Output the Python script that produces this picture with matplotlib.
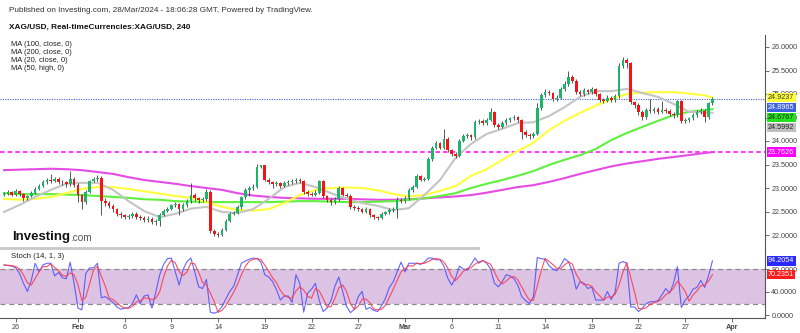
import numpy as np
import pandas as pd
import matplotlib
matplotlib.use("Agg")
import matplotlib.pyplot as plt
import matplotlib.transforms as mtransforms
from matplotlib.lines import Line2D

plt.rcParams['font.family'] = ['Liberation Sans', 'DejaVu Sans']

# -----------------------------------------------------------------------------
#  XAG/USD 6h candles, 25 Jan -> 28 Mar 2024 (open = previous close)
# -----------------------------------------------------------------------------
first_open = 22.85

closes = [
    22.88, 22.91, 22.86, 22.93, 22.87, 22.78, 22.82, 22.90, 22.98, 23.05,
    23.12, 23.16, 23.14, 23.20, 23.13, 23.12, 23.08, 23.20, 23.07, 22.85,
    22.70, 22.92, 23.15, 23.19, 23.22, 22.72, 22.68, 22.62, 22.55, 22.45,
    22.42, 22.38, 22.40, 22.45, 22.38, 22.36, 22.32, 22.35, 22.28, 22.30,
    22.43, 22.52, 22.56, 22.63, 22.66, 22.55, 22.64, 22.72, 22.86, 22.78,
    22.74, 22.76, 22.92, 22.08, 22.02, 22.00, 22.10, 22.30, 22.45, 22.47,
    22.60, 22.80, 22.95, 23.00, 23.03, 23.45, 23.48, 23.18, 23.12, 23.08,
    23.10, 23.05, 23.10, 23.12, 23.15, 23.18, 23.14, 22.92, 22.88, 22.86,
    22.90, 23.15, 22.82, 22.74, 22.70, 22.76, 23.00, 22.86, 22.84, 22.60,
    22.58, 22.55, 22.50, 22.55, 22.42, 22.38, 22.36, 22.45, 22.48, 22.53,
    22.55, 22.75, 22.72, 22.78, 22.95, 23.02, 23.25, 23.18, 23.20, 23.62,
    23.85, 23.95, 23.86, 24.05, 23.80, 23.72, 23.68, 24.00, 24.10, 24.12,
    24.08, 24.40, 24.42, 24.38, 24.45, 24.62, 24.35, 24.30, 24.38, 24.44,
    24.48, 24.50, 24.44, 24.20, 24.13, 24.10, 24.15, 24.70, 24.98, 25.05,
    25.02, 24.90, 24.92, 25.10, 25.22, 25.36, 25.28, 25.05, 25.00, 25.08,
    25.04, 25.10, 25.00, 24.88, 24.86, 24.92, 24.88, 24.95, 25.60, 25.72,
    25.66, 24.82, 24.76, 24.62, 24.50, 24.66, 24.64, 24.68, 24.62, 24.66,
    24.64, 24.58, 24.55, 24.85, 24.42, 24.45, 24.48, 24.55, 24.62, 24.64,
    24.50, 24.80, 24.8965,
]

highs = [
    22.92, 22.95, 22.94, 22.97, 22.96, 22.90, 22.85, 22.93, 23.02, 23.09,
    23.18, 23.22, 23.30, 23.24, 23.23, 23.17, 23.15, 23.36, 23.23, 23.10,
    22.88, 22.96, 23.18, 23.24, 23.28, 23.25, 22.78, 22.72, 22.65, 22.58,
    22.48, 22.45, 22.44, 22.50, 22.48, 22.42, 22.40, 22.40, 22.38, 22.34,
    22.46, 22.56, 22.60, 22.67, 22.70, 22.69, 22.68, 22.76, 23.10, 22.90,
    22.80, 22.80, 22.98, 22.95, 22.12, 22.06, 22.14, 22.34, 22.48, 22.52,
    22.64, 22.84, 23.00, 23.04, 23.08, 23.52, 23.50, 23.50, 23.22, 23.15,
    23.14, 23.13, 23.14, 23.16, 23.20, 23.22, 23.21, 23.17, 22.96, 22.91,
    22.95, 23.18, 23.17, 22.85, 22.78, 22.80, 23.04, 23.02, 22.90, 22.87,
    22.64, 22.62, 22.58, 22.60, 22.57, 22.45, 22.41, 22.49, 22.52, 22.57,
    22.60, 22.80, 22.79, 22.82, 22.99, 23.06, 23.29, 23.27, 23.24, 23.66,
    23.90, 24.00, 23.98, 24.25, 24.08, 23.84, 23.76, 24.04, 24.14, 24.18,
    24.15, 24.44, 24.47, 24.46, 24.50, 24.70, 24.64, 24.39, 24.42, 24.48,
    24.52, 24.55, 24.53, 24.47, 24.24, 24.16, 24.20, 24.80, 25.03, 25.10,
    25.08, 25.05, 24.97, 25.14, 25.27, 25.48, 25.40, 25.31, 25.09, 25.12,
    25.11, 25.15, 25.13, 25.03, 24.92, 24.97, 24.95, 25.00, 25.65, 25.79,
    25.76, 25.69, 24.86, 24.80, 24.66, 24.70, 24.90, 24.72, 24.72, 24.85,
    24.70, 24.68, 24.62, 24.88, 24.87, 24.50, 24.52, 24.60, 24.66, 24.70,
    24.68, 24.84, 24.93,
]

lows = [
    22.82, 22.85, 22.83, 22.84, 22.84, 22.72, 22.75, 22.80, 22.88, 22.95,
    23.02, 23.08, 23.10, 23.12, 23.09, 23.06, 23.03, 23.05, 23.03, 22.70,
    22.55, 22.66, 22.90, 23.12, 23.14, 22.42, 22.62, 22.58, 22.50, 22.40,
    22.36, 22.34, 22.35, 22.37, 22.34, 22.31, 22.28, 22.28, 22.24, 22.22,
    22.20, 22.40, 22.48, 22.53, 22.60, 22.43, 22.52, 22.60, 22.69, 22.73,
    22.68, 22.70, 22.72, 22.04, 21.98, 21.95, 21.97, 22.08, 22.27, 22.42,
    22.44, 22.56, 22.76, 22.82, 22.96, 23.00, 23.42, 23.14, 23.08, 23.00,
    23.04, 23.01, 23.02, 23.06, 23.09, 23.11, 23.10, 22.88, 22.84, 22.82,
    22.83, 22.87, 22.78, 22.70, 22.64, 22.66, 22.73, 22.82, 22.80, 22.56,
    22.54, 22.51, 22.46, 22.47, 22.38, 22.34, 22.31, 22.33, 22.42, 22.45,
    22.50, 22.36, 22.68, 22.69, 22.75, 22.92, 22.99, 23.14, 23.15, 23.17,
    23.58, 23.82, 23.82, 23.83, 23.76, 23.68, 23.64, 23.65, 23.97, 24.06,
    24.03, 24.05, 24.36, 24.33, 24.35, 24.42, 24.30, 24.25, 24.27, 24.34,
    24.40, 24.44, 24.40, 24.05, 24.08, 24.05, 24.07, 24.12, 24.66, 24.94,
    24.97, 24.85, 24.86, 24.89, 25.06, 25.18, 25.24, 25.00, 24.96, 24.96,
    25.00, 25.01, 24.96, 24.84, 24.81, 24.83, 24.83, 24.84, 24.92, 25.56,
    25.55, 24.78, 24.70, 24.56, 24.45, 24.47, 24.60, 24.60, 24.58, 24.59,
    24.60, 24.54, 24.50, 24.52, 24.38, 24.38, 24.41, 24.44, 24.51, 24.58,
    24.40, 24.47, 24.76,
]

# Stochastic %K (14, 1), one value per candle
stoch_k = [
    87, 86, 85, 82, 72, 55, 41, 60, 90, 75,
    87, 90, 90, 68, 74, 65, 63, 92, 55, 12,
    9, 72, 82, 82, 90, 30, 32, 27, 22, 14,
    10, 12, 13, 20, 35, 20, 33, 35, 12, 40,
    70, 88, 98, 99, 75, 52, 79, 93, 99, 75,
    49, 46, 62, 5, 3, 6, 15, 28, 41, 50,
    70, 90, 94, 97, 99, 98, 92, 70, 66, 58,
    44, 26, 33, 33, 22, 70, 55, 5, 38, 45,
    55, 25, 6, 12, 25, 50, 66, 41, 15, 4,
    10, 32, 41, 10, 13, 8, 6, 16, 29, 48,
    58, 75, 92, 75, 90, 90, 90, 88, 92, 99,
    99, 96, 96, 85, 64, 52, 64, 85, 80, 78,
    88, 99, 90, 95, 90, 80, 55, 49, 58, 70,
    68, 63, 52, 32, 25, 20, 32, 100, 98, 97,
    86, 80, 77, 86, 98, 93, 75, 45, 58, 55,
    46, 49, 26, 26, 26, 41, 27, 40, 90, 93,
    90, 14, 14, 6, 12, 20, 23, 23, 25, 35,
    46, 38, 55, 84, 13, 26, 33, 45, 48, 60,
    48, 68.5, 94.2054,
]

# Moving averages, one reading per session (every 4th candle) plus the last bar
ma20 = [
    22.49, 22.64, 22.81, 22.96, 23.09, 23.11, 23.11, 22.96, 22.72, 22.51,
    22.38, 22.45, 22.56, 22.60, 22.49, 22.47, 22.55, 22.77, 23.02, 23.11,
    23.02, 22.89, 22.77, 22.68, 22.62, 22.53, 22.57, 22.85, 23.17, 23.64,
    23.94, 24.15, 24.26, 24.38, 24.40, 24.53, 24.72, 24.94, 25.06, 25.06,
    25.11, 25.02, 24.94, 24.79, 24.62, 24.61, 24.5992,
]
ma50_high = [
    22.77, 22.75, 22.77, 22.81, 22.89, 22.98, 23.02, 23.02, 22.98, 22.93,
    22.88, 22.83, 22.79, 22.70, 22.60, 22.53, 22.52, 22.55, 22.68, 22.85,
    22.96, 23.00, 23.01, 23.00, 22.95, 22.87, 22.82, 22.85, 22.94, 23.04,
    23.26, 23.40, 23.60, 23.79, 23.96, 24.23, 24.43, 24.60, 24.75, 24.89,
    25.00, 25.03, 25.04, 25.04, 25.01, 24.97, 24.9237,
]
ma100 = [
    22.89, 22.87, 22.87, 22.87, 22.86, 22.85, 22.83, 22.81, 22.79, 22.76,
    22.75, 22.72, 22.71, 22.70, 22.70, 22.70, 22.70, 22.70, 22.71, 22.72,
    22.72, 22.71, 22.70, 22.70, 22.71, 22.72, 22.75, 22.78, 22.83, 22.89,
    23.00, 23.09, 23.17, 23.26, 23.36, 23.49, 23.60, 23.70, 23.83, 24.02,
    24.17, 24.30, 24.43, 24.55, 24.62, 24.66, 24.6767,
]
ma200 = [
    23.38, 23.39, 23.40, 23.41, 23.40, 23.38, 23.34, 23.30, 23.23, 23.17,
    23.13, 23.09, 23.04, 23.00, 22.96, 22.89, 22.84, 22.81, 22.79, 22.78,
    22.77, 22.77, 22.77, 22.76, 22.75, 22.75, 22.76, 22.78, 22.80, 22.82,
    22.85, 22.90, 22.96, 23.02, 23.06, 23.13, 23.21, 23.30, 23.38, 23.46,
    23.52, 23.57, 23.62, 23.66, 23.70, 23.745, 23.7626,
]

# session number (0 = Fri 26 Jan) of each date label
tick_days = [0, 4, 7, 10, 13, 16, 19, 22, 25, 28, 31, 34, 37, 40, 43, 46]
tick_labels = ['26', 'Feb', '6', '9', '14', '19', '22', '27',
               'Mar', '6', '11', '14', '19', '22', '27', 'Apr']
month_labels = {'Feb', 'Mar', 'Apr'}

# =============================================================================
#                              ESTILO
# =============================================================================
UP = '#1db56a'
DOWN = '#f51414'
WICK = '#3a3a3a'
C_MA20 = '#c4c4c4'
C_MA50 = '#ffff3c'
C_MA100 = '#5ef03c'
C_MA200 = '#e64be6'
C_PRICE = '#3f63e0'
AXIS = '#555555'
LABEL_FS = 5.2

W, H = 800, 333
fig = plt.figure(figsize=(W / 100, H / 100), dpi=100)
fig.patch.set_facecolor('white')


def fx(px):
    return px / W


def fy(py):
    return 1 - py / H


opens = [first_open] + closes[:-1]
idx = np.arange(len(closes))
ma_idx = list(range(0, len(closes) - 2, 4)) + [len(closes) - 1]
tick_pos = [3 + 4 * d for d in tick_days]
xlim = (-1.03, 195.5)

# =============================================================================
#                          PANEL DE PRECIO
# =============================================================================
ax = fig.add_axes([0, fy(251), fx(765), (251 - 35) / H])
ax.set_xlim(*xlim)
ax.set_ylim(26 - 204 / 47, 26 + 12 / 47)

ax.plot(ma_idx, ma200, color=C_MA200, lw=1.5, zorder=2)
ax.plot(ma_idx, ma100, color=C_MA100, lw=1.5, zorder=2)
ax.plot(ma_idx, ma50_high, color=C_MA50, lw=1.5, zorder=2)
ax.plot(ma_idx, ma20, color=C_MA20, lw=1.5, zorder=2)

o = np.array(opens)
c = np.array(closes)
up = c >= o
ax.vlines(idx, lows, highs, color=WICK, lw=0.6, zorder=3)
body_lo = np.minimum(o, c)
body_h = np.maximum(np.abs(c - o), 0.012)
ax.bar(idx, body_h, bottom=body_lo, width=0.68,
       color=np.where(up, UP, DOWN), linewidth=0, zorder=4)

# price line and MA200 level
ax.axhline(closes[-1], color=C_PRICE, lw=0.8, ls=(0, (1, 1.2)), zorder=1)
ax.axhline(ma200[-1], color='#ff00ff', lw=1.1, ls=(0, (3, 2)), zorder=1)

for s in ['top', 'left', 'bottom']:
    ax.spines[s].set_visible(False)
ax.spines['right'].set_color(AXIS)
ax.spines['right'].set_linewidth(0.8)
ax.set_xticks([])
ax.yaxis.tick_right()
ax.set_yticks(np.arange(22.0, 26.01, 0.5))
ax.set_yticklabels([f'{v:.4f}' for v in np.arange(22.0, 26.01, 0.5)])
ax.tick_params(axis='y', length=3, width=0.6, color=AXIS, pad=1.5,
               labelsize=LABEL_FS, labelcolor='#444444')

# last-value boxes on the price scale, stacked so they do not overlap
trans = mtransforms.blended_transform_factory(ax.transAxes, ax.transData)
boxes = [
    (ma50_high[-1], C_MA50, '#333333'),
    (closes[-1], '#3f63e0', 'white'),
    (ma100[-1], '#22e01a', '#222222'),
    (ma20[-1], '#c0c0c0', '#222222'),
    (ma200[-1], '#ff00ff', 'white'),
]
gap = 10 / 47
prev = None
for val, bg, fg in boxes:
    pos = val if prev is None else min(val, prev - gap)
    ax.text(1.004, pos, f'{val:.4f}', transform=trans, fontsize=LABEL_FS,
            color=fg, va='center', ha='left', clip_on=False, zorder=10,
            bbox=dict(boxstyle='square,pad=0.18', fc=bg, ec='none'))
    prev = pos

# =============================================================================
#                          PANEL STOCH
# =============================================================================
ax2 = fig.add_axes([0, fy(318), fx(765), (318 - 251) / H])
ax2.set_xlim(*xlim)
ax2.set_ylim(-3 / 0.575, 64 / 0.575)

stoch_d = pd.Series(stoch_k).rolling(3, min_periods=1).mean()
ax2.axhspan(20, 80, color='#dcc2e3', lw=0, zorder=0)
ax2.axhline(80, color='#8a8a8a', lw=0.9, ls=(0, (4, 3)), zorder=1)
ax2.axhline(20, color='#8a8a8a', lw=0.9, ls=(0, (4, 3)), zorder=1)
ax2.plot(idx, stoch_k, color='#4a4aff', lw=0.8, alpha=0.85, zorder=2)
ax2.plot(idx, stoch_d, color='#ff3b4e', lw=0.8, alpha=0.9, zorder=3)

for s in ['top', 'left']:
    ax2.spines[s].set_visible(False)
for s in ['right', 'bottom']:
    ax2.spines[s].set_color(AXIS)
    ax2.spines[s].set_linewidth(0.8)
ax2.yaxis.tick_right()
ax2.set_yticks([0, 40, 80])
ax2.set_yticklabels(['0.0000', '40.0000', '80.0000'])
ax2.tick_params(axis='y', length=3, width=0.6, color=AXIS, pad=1.5,
                labelsize=LABEL_FS, labelcolor='#444444')
ax2.set_xticks(tick_pos)
ax2.set_xticklabels(tick_labels)
ax2.tick_params(axis='x', length=3, width=0.6, color=AXIS, pad=1.5,
                labelsize=LABEL_FS, labelcolor='#444444')
for lab in ax2.get_xticklabels():
    if lab.get_text() in month_labels:
        lab.set_fontweight('bold')

trans2 = mtransforms.blended_transform_factory(ax2.transAxes, ax2.transData)
for val, bg in [(stoch_k[-1], '#2a2aff'), (stoch_d.iloc[-1], '#ff1a1a')]:
    ax2.text(1.004, val, f'{val:.4f}', transform=trans2, fontsize=LABEL_FS,
             color='white', va='center', ha='left', clip_on=False, zorder=10,
             bbox=dict(boxstyle='square,pad=0.18', fc=bg, ec='none'))

ax2.text(0.014, 101, 'Stoch (14, 1, 3)', transform=trans2, fontsize=5.6,
         color='#222222', va='center', ha='left')

# divider between the panes
fig.add_artist(Line2D([0, fx(478)], [fy(248), fy(248)], color='#c8c8c8', lw=2))

# =============================================================================
#                          CABECERA Y MARCA
# =============================================================================
fig.text(fx(9), fy(10), 'Published on Investing.com, 28/Mar/2024 - 18:06:28 GMT, '
         'Powered by TradingView.', fontsize=5.9, color='#333333', va='center')
fig.text(fx(9), fy(27), 'XAG/USD, Real-timeCurrencies:XAG/USD, 240',
         fontsize=5.95, weight='bold', color='#111111', va='center')
ma_names = ['MA (100, close, 0)', 'MA (200, close, 0)',
            'MA (20, close, 0)', 'MA (50, high, 0)']
for k, name in enumerate(ma_names):
    fig.text(fx(11), fy(44 + 8.3 * k), name, fontsize=5.4,
             color='#222222', va='center')

logo = fig.text(fx(12), fy(240), 'Investing', fontsize=9.5, weight='bold',
                color='#111111', va='baseline')
ax.annotate('.com', xy=(1, 0), xycoords=logo, va='bottom', ha='left',
            fontsize=7.2, color='#555555')

fig.savefig('out.png', dpi=100, facecolor='white')
